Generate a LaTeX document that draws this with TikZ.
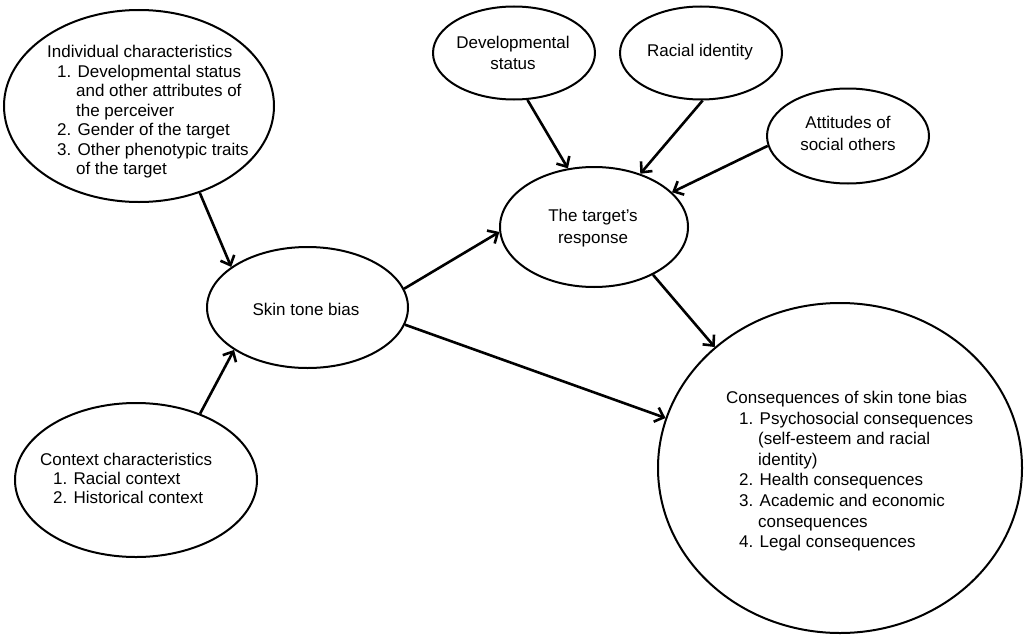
\documentclass[tikz,border=0pt]{standalone}
\usepackage{fontspec}
\setmainfont{Liberation Sans}
\usetikzlibrary{arrows.meta,shapes.geometric}
\begin{document}
\begin{tikzpicture}[x=1pt,y=-1pt,
  oval/.style={draw=black,line width=2pt,ellipse,inner sep=0pt,fill=white},
  txt/.style={inner sep=0pt,font=\fontsize{17}{20.5}\selectfont},
  link/.style={line width=2.6pt,-{Straight Barb[length=8pt,width=15pt,line width=2.6pt]}}]
\useasboundingbox[fill=white] (0,0) rectangle (1024,634);
% ellipses
\node[oval,minimum width=270pt,minimum height=192pt] (ind) at (139,106) {};
\node[oval,minimum width=242pt,minimum height=154pt] (ctx) at (136,480) {};
\node[oval,minimum width=201pt,minimum height=121pt] (skin) at (307.5,307.5) {};
\node[oval,minimum width=162pt,minimum height=93pt] (dev) at (514,53) {};
\node[oval,minimum width=162pt,minimum height=93pt] (rac) at (701,53) {};
\node[oval,minimum width=162pt,minimum height=95pt] (att) at (848,136) {};
\node[oval,minimum width=188pt,minimum height=120pt] (tgt) at (594,227) {};
\node[oval,minimum width=364pt,minimum height=330pt] (cons) at (840,468) {};
% texts
\node[txt,anchor=north west,align=left,font=\fontsize{17}{19.5}\selectfont] (indT) at (47,45)
 {Individual characteristics\\
  \hspace*{10pt}1. Developmental status\\
  \hspace*{10pt}\hphantom{1.\ }and other attributes of\\
  \hspace*{10pt}\hphantom{1.\ }the perceiver\\
  \hspace*{10pt}2. Gender of the target\\
  \hspace*{10pt}3. Other phenotypic traits\\
  \hspace*{10pt}\hphantom{1.\ }of the target};
\node[txt,anchor=north west,align=left,font=\fontsize{17}{19}\selectfont] (ctxT) at (40,453)
 {Context characteristics\\
  \hspace*{13pt}1. Racial context\\
  \hspace*{13pt}2. Historical context};
\node[txt] (skinT) at (306,309) {Skin tone bias};
\node[txt,anchor=north,align=center,font=\fontsize{17}{21}\selectfont] (devT) at (513,36) {Developmental\\status};
\node[txt] (racT) at (700,52) {Racial identity};
\node[txt,anchor=north,align=center,font=\fontsize{17}{22}\selectfont] (attT) at (848,116) {Attitudes of\\social others};
\node[txt,anchor=north,align=center,font=\fontsize{17}{22}\selectfont] (tgtT) at (593,209) {The target's\\response};
\node[txt,anchor=north west,align=left,font=\fontsize{17}{20.6}\selectfont] (consT) at (726,391)
 {Consequences of skin tone bias\\
  \hspace*{13pt}1. Psychosocial consequences\\
  \hspace*{13pt}\hphantom{1.\ }(self-esteem and racial\\
  \hspace*{13pt}\hphantom{1.\ }identity)\\
  \hspace*{13pt}2. Health consequences\\
  \hspace*{13pt}3. Academic and economic\\
  \hspace*{13pt}\hphantom{1.\ }consequences\\
  \hspace*{13pt}4. Legal consequences};
% connectors
\draw[link] (ind.-55.3) -- (skin.152.4);
\draw[link] (ctx.46.3) -- (skin.210.9);
\draw[link] (skin.11) -- (tgt.183.7);
\draw[link] (skin.-10.4) -- (cons.164.7);
\draw[link] (tgt.-39.1) -- (cons.136.6);
\draw[link] (dev.-74.8) -- (tgt.114.6);
\draw[link] (rac.-88) -- (tgt.49.8);
\draw[link] (att.187.8) -- (tgt.24.2);
\end{tikzpicture}
\end{document}
